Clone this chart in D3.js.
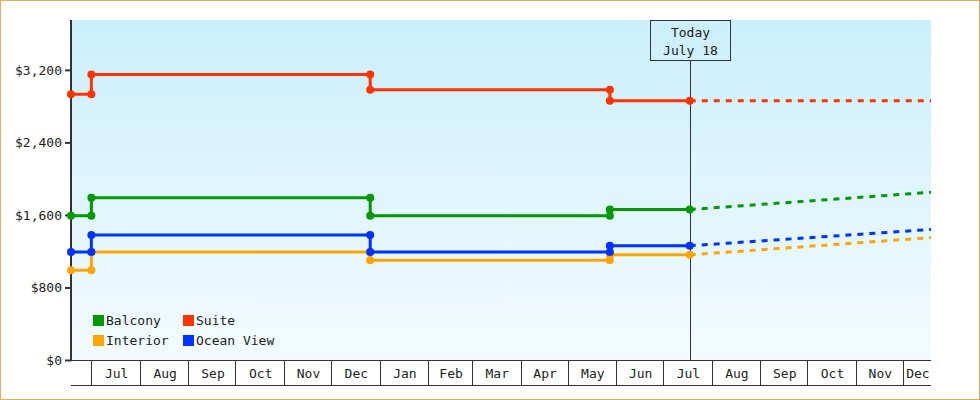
<!DOCTYPE html>
<head>
  <style>
    body { margin: 0; }
    text { font-family: "DejaVu Sans Mono", monospace; font-size: 13px; fill: #222; }
  </style>
</head>
<body>
<script src="https://cdn.jsdelivr.net/npm/d3@7"></script>
<script>
  var p = d3.timeParse("%Y-%m-%d");
  var seriesNames = ["Balcony", "Suite", "Interior", "Ocean View"];
  var seriesColors = ["#009900", "#ff3300", "#ffa500", "#0033ff"];
  // actual prices: [date, value]
  var suiteData = [["2012-06-18",2930],["2012-07-01",2930],["2012-07-01",3150],["2012-12-26",3150],["2012-12-26",2980],["2013-05-28",2980],["2013-05-28",2860],["2013-07-18",2860]];
  var balconyData = [["2012-06-18",1590],["2012-07-01",1590],["2012-07-01",1790],["2012-12-26",1790],["2012-12-26",1590],["2013-05-28",1590],["2013-05-28",1660],["2013-07-18",1660]];
  var oceanData = [["2012-06-18",1190],["2012-07-01",1190],["2012-07-01",1380],["2012-12-26",1380],["2012-12-26",1190],["2013-05-28",1190],["2013-05-28",1260],["2013-07-18",1260]];
  var interiorData = [["2012-06-18",990],["2012-07-01",990],["2012-07-01",1190],["2012-12-26",1190],["2012-12-26",1100],["2013-05-28",1100],["2013-05-28",1160],["2013-07-18",1160]];
  // forecasts
  var suiteForecast = [["2013-07-18",2860],["2013-12-19",2860]];
  var balconyForecast = [["2013-07-18",1660],["2013-12-19",1850]];
  var oceanForecast = [["2013-07-18",1260],["2013-12-19",1440]];
  var interiorForecast = [["2013-07-18",1160],["2013-12-19",1350]];
  var yTicks = [0, 800, 1600, 2400, 3200];
  var today = "2013-07-18";

  var W = 980, H = 400, pl = 71, pr = 931, pt = 20, pb = 360;
  var x = d3.scaleTime().domain([p("2012-06-18"), p("2013-12-19")]).range([pl, pr]);
  var y = d3.scaleLinear().domain([0, 3750]).range([pb, pt]);

  var svg = d3.select("body").append("svg").attr("width", W).attr("height", H);
  var grad = svg.append("defs").append("linearGradient").attr("id", "bg").attr("x1", 0).attr("x2", 0).attr("y1", 0).attr("y2", 1);
  grad.append("stop").attr("offset", "0%").attr("stop-color", "#cbeffc");
  grad.append("stop").attr("offset", "100%").attr("stop-color", "#f3fbff");
  svg.append("rect").attr("x", 0.5).attr("y", 0.5).attr("width", W - 1).attr("height", H - 1).attr("fill", "#fff").attr("stroke", "#e8a860");
  svg.append("rect").attr("x", pl).attr("y", pt).attr("width", pr - pl).attr("height", pb - pt).attr("fill", "url(#bg)");

  // y axis
  var ya = svg.append("g").attr("transform", "translate(" + pl + ",0)")
    .call(d3.axisLeft(y).tickValues(yTicks).tickSize(6).tickFormat(function(d){ return "$" + d3.format(",")(d); }));
  ya.select(".domain").remove();
  ya.selectAll("line").attr("stroke", "#333").attr("stroke-width", 2);
  ya.selectAll("text").attr("fill", "#333").style("font-size", "13px").style("font-family", "DejaVu Sans Mono");
  svg.append("line").attr("x1", pl).attr("x2", pl).attr("y1", pt).attr("y2", pb + 1).attr("stroke", "#333").attr("stroke-width", 2);

  // x axis month cells
  var months = x.ticks(d3.timeMonth);
  svg.append("line").attr("x1", pl).attr("x2", pr).attr("y1", pb + 0.5).attr("y2", pb + 0.5).attr("stroke", "#333");
  svg.append("line").attr("x1", pl).attr("x2", pr).attr("y1", 385.5).attr("y2", 385.5).attr("stroke", "#333");
  svg.selectAll(".msep").data(months).enter().append("line")
    .attr("x1", function(d){ return Math.round(x(d)) + 0.5; }).attr("x2", function(d){ return Math.round(x(d)) + 0.5; })
    .attr("y1", pb).attr("y2", 385).attr("stroke", "#333");
  svg.selectAll(".mlab").data(months).enter().append("text")
    .attr("x", function(d){ var e = d3.timeMonth.offset(d, 1); return (x(d) + Math.min(x(e), pr)) / 2 + 1; })
    .attr("y", 378).attr("text-anchor", "middle")
    .text(function(d){ return d3.timeFormat("%b")(d); });

  // today marker
  var tx = Math.round(x(p(today))) + 0.5;
  svg.append("line").attr("x1", tx).attr("x2", tx).attr("y1", 60).attr("y2", pb).attr("stroke", "#333");
  svg.append("rect").attr("x", tx - 40).attr("y", 20.5).attr("width", 80).attr("height", 40).attr("fill", "none").attr("stroke", "#333");
  svg.append("text").attr("x", tx).attr("y", 37).attr("text-anchor", "middle").text("Today");
  svg.append("text").attr("x", tx).attr("y", 55).attr("text-anchor", "middle").text("July 18");

  var line = d3.line().x(function(d){ return x(p(d[0])); }).y(function(d){ return y(d[1]); });
  var actual = [balconyData, suiteData, interiorData, oceanData];
  var forecast = [balconyForecast, suiteForecast, interiorForecast, oceanForecast];
  [2, 3, 0, 1].forEach(function(i) {
    svg.append("path").attr("d", line(forecast[i])).attr("fill", "none").attr("stroke", seriesColors[i])
      .attr("stroke-width", 3).attr("stroke-dasharray", "6,6");
    svg.append("path").attr("d", line(actual[i])).attr("fill", "none").attr("stroke", seriesColors[i]).attr("stroke-width", 3);
    svg.selectAll(null).data(actual[i]).enter().append("circle")
      .attr("cx", function(d){ return x(p(d[0])); }).attr("cy", function(d){ return y(d[1]); })
      .attr("r", 4).attr("fill", seriesColors[i]);
  });

  // legend
  seriesNames.forEach(function(n, i) {
    var lx = 93 + (i % 2) * 90, ly = 315 + Math.floor(i / 2) * 20;
    svg.append("rect").attr("x", lx).attr("y", ly).attr("width", 11).attr("height", 11).attr("fill", seriesColors[i]);
    svg.append("text").attr("x", lx + 13).attr("y", ly + 10).text(n);
  });
</script>
</body>
